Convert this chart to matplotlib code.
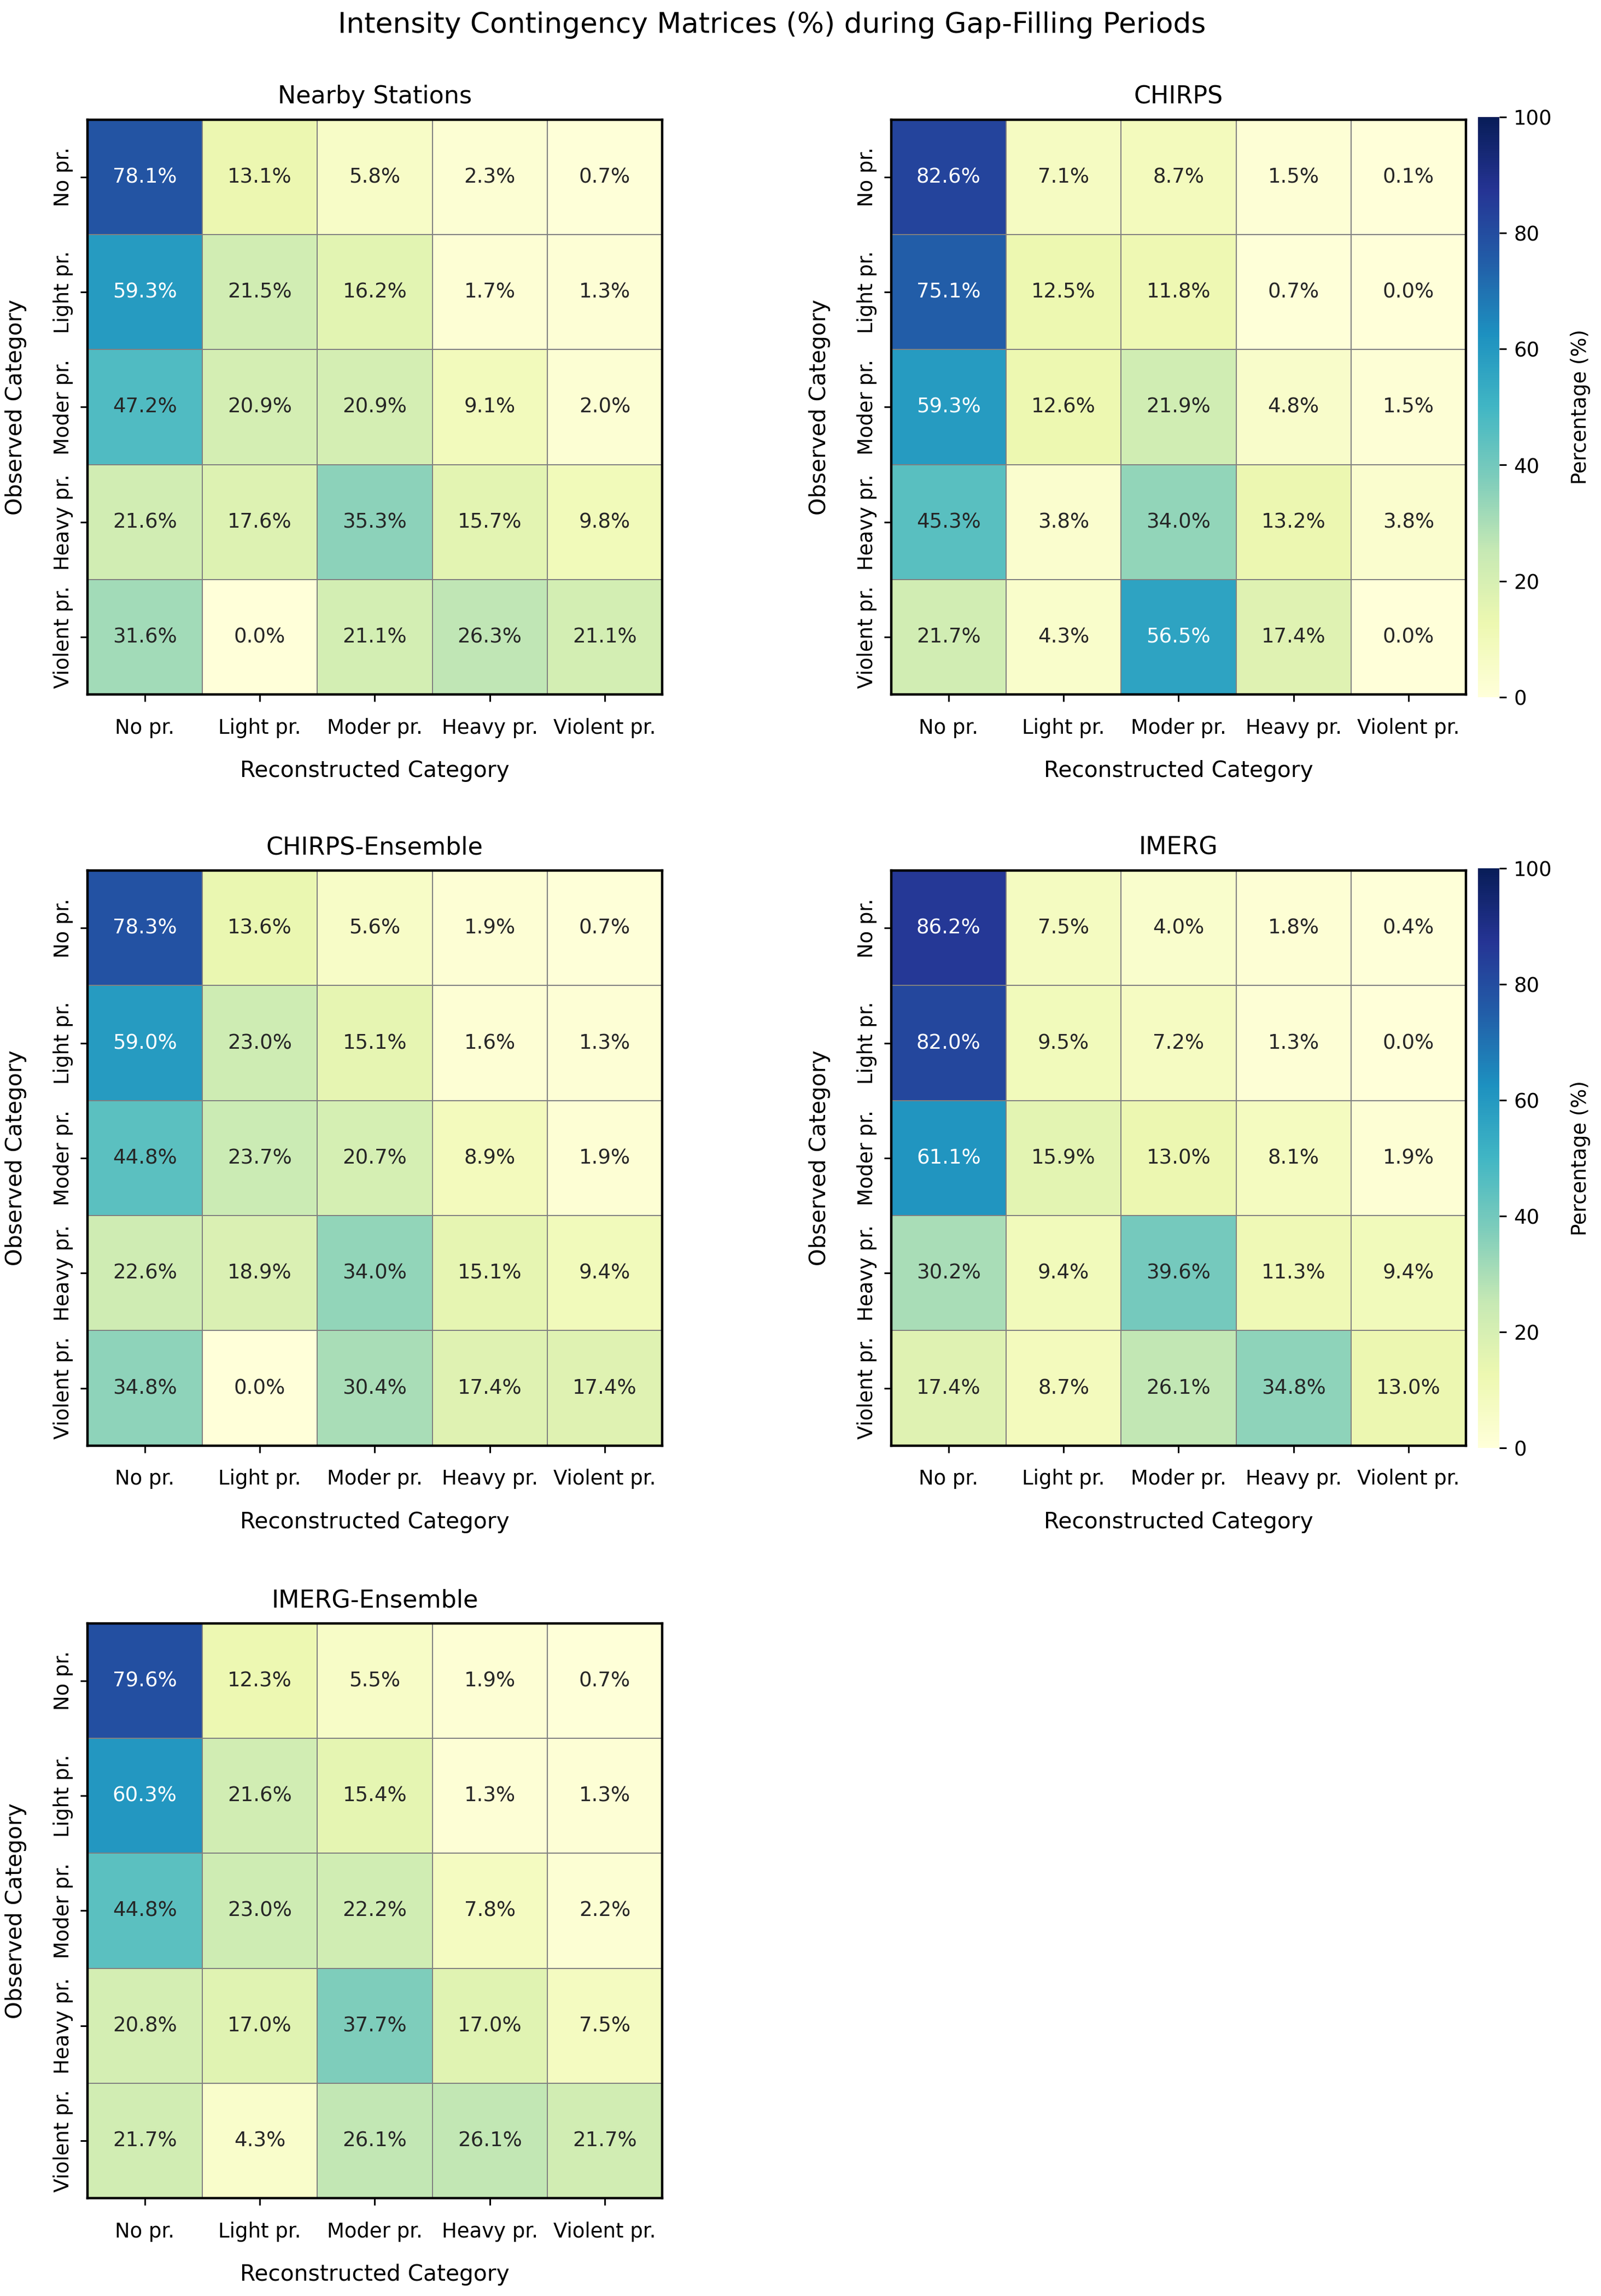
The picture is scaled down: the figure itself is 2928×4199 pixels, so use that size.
import numpy as np
import matplotlib
matplotlib.use("Agg")
import matplotlib.pyplot as plt
import seaborn as sns

categories = ["No pr.", "Light pr.", "Moder pr.", "Heavy pr.", "Violent pr."]

nearby_stations = [
    [78.1, 13.1, 5.8, 2.3, 0.7],
    [59.3, 21.5, 16.2, 1.7, 1.3],
    [47.2, 20.9, 20.9, 9.1, 2.0],
    [21.6, 17.6, 35.3, 15.7, 9.8],
    [31.6, 0.0, 21.1, 26.3, 21.1],
]
chirps = [
    [82.6, 7.1, 8.7, 1.5, 0.1],
    [75.1, 12.5, 11.8, 0.7, 0.0],
    [59.3, 12.6, 21.9, 4.8, 1.5],
    [45.3, 3.8, 34.0, 13.2, 3.8],
    [21.7, 4.3, 56.5, 17.4, 0.0],
]
chirps_ensemble = [
    [78.3, 13.6, 5.6, 1.9, 0.7],
    [59.0, 23.0, 15.1, 1.6, 1.3],
    [44.8, 23.7, 20.7, 8.9, 1.9],
    [22.6, 18.9, 34.0, 15.1, 9.4],
    [34.8, 0.0, 30.4, 17.4, 17.4],
]
imerg = [
    [86.2, 7.5, 4.0, 1.8, 0.4],
    [82.0, 9.5, 7.2, 1.3, 0.0],
    [61.1, 15.9, 13.0, 8.1, 1.9],
    [30.2, 9.4, 39.6, 11.3, 9.4],
    [17.4, 8.7, 26.1, 34.8, 13.0],
]
imerg_ensemble = [
    [79.6, 12.3, 5.5, 1.9, 0.7],
    [60.3, 21.6, 15.4, 1.3, 1.3],
    [44.8, 23.0, 22.2, 7.8, 2.2],
    [20.8, 17.0, 37.7, 17.0, 7.5],
    [21.7, 4.3, 26.1, 26.1, 21.7],
]

titles = ["Nearby Stations", "CHIRPS", "CHIRPS-Ensemble", "IMERG", "IMERG-Ensemble"]
matrices = [nearby_stations, chirps, chirps_ensemble, imerg, imerg_ensemble]

fig = plt.figure(figsize=(11, 15.77), dpi=266.27)

ax_w, ax_h = 0.359, 0.2526
col_x = [0.0545, 0.5564]
row_y = [0.6964, 0.3693, 0.0415]

for i, (title, mat) in enumerate(zip(titles, matrices)):
    row, col = divmod(i, 2)
    ax = fig.add_axes([col_x[col], row_y[row], ax_w, ax_h])
    data = np.array(mat)
    labels = np.array([[f"{v:.1f}%" for v in r] for r in data])
    show_cbar = col == 1
    cbar_ax = None
    if show_cbar:
        cbar_ax = fig.add_axes([0.9227, row_y[row], 0.0136, ax_h])
    sns.heatmap(data, annot=labels, fmt="", cmap="YlGnBu", vmin=0, vmax=100,
                linewidths=0.5, linecolor="gray", square=True,
                xticklabels=categories, yticklabels=categories,
                cbar=show_cbar, cbar_ax=cbar_ax,
                annot_kws={"fontsize": 10}, ax=ax)
    for spine in ax.spines.values():
        spine.set_visible(True)
        spine.set_color("black")
        spine.set_linewidth(1.2)
    ax.set_title(title, fontsize=12, pad=8)
    ax.set_xlabel("Reconstructed Category", fontsize=11, labelpad=11)
    ax.set_ylabel("Observed Category", fontsize=11, labelpad=13)
    ax.tick_params(axis="both", labelsize=10)
    ax.tick_params(axis="x", pad=8)
    plt.setp(ax.get_xticklabels(), rotation=0)
    plt.setp(ax.get_yticklabels(), rotation=90, va="center")
    if show_cbar:
        cbar_ax.tick_params(labelsize=10)
        cbar_ax.set_ylabel("Percentage (%)", fontsize=10, labelpad=9)

fig.suptitle("Intensity Contingency Matrices (%) during Gap-Filling Periods",
             fontsize=14, x=0.482, y=0.995)

fig.savefig("out.png", dpi=266.27)
